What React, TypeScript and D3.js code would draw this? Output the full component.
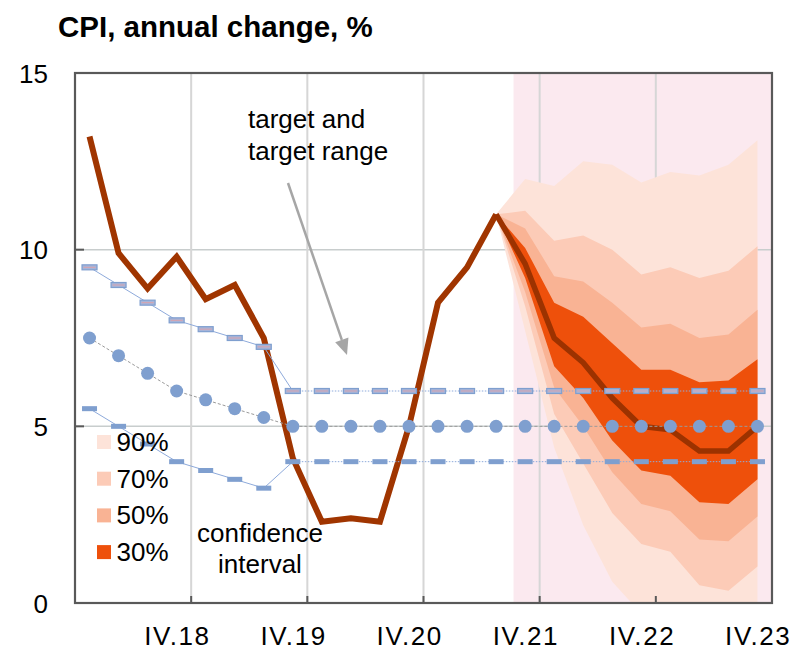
import React from 'react'
import * as d3 from 'd3'

// quarters from I.18 to IV.23
const quarters = [
  'I.18', 'II.18', 'III.18', 'IV.18',
  'I.19', 'II.19', 'III.19', 'IV.19',
  'I.20', 'II.20', 'III.20', 'IV.20',
  'I.21', 'II.21', 'III.21', 'IV.21',
  'I.22', 'II.22', 'III.22', 'IV.22',
  'I.23', 'II.23', 'III.23', 'IV.23',
]
const xLabels = ['IV.18', 'IV.19', 'IV.20', 'IV.21', 'IV.22', 'IV.23']
const yTicks = [0, 5, 10, 15]

// actual CPI, I.18 .. III.21
const cpiActual = [13.2, 9.9, 8.9, 9.8, 8.6, 9.0, 7.5, 4.1, 2.3, 2.4, 2.3, 5.0, 8.5, 9.5, 11.0]
// forecast, III.21 .. IV.23
const forecastQuarters = quarters.slice(14)
const cpiForecast = [11.0, 9.6, 7.5, 6.8, 5.8, 5.0, 4.9, 4.3, 4.3, 5.0]

// confidence intervals
const fan90Hi = [11.0, 12.0, 11.8, 12.5, 12.4, 11.9, 12.2, 12.1, 12.4, 13.1]
const fan90Lo = [11.0, 7.7, 4.4, 2.2, 0.6, -0.3, -0.7, -1.7, -2.0, -1.3]
const fan70Hi = [11.0, 11.1, 10.25, 10.4, 10.0, 9.3, 9.5, 9.2, 9.4, 10.1]
const fan70Lo = [11.0, 8.4, 5.35, 3.95, 2.55, 1.67, 1.45, 0.5, 0.35, 1.03]
const fan50Hi = [11.0, 10.6, 9.25, 9.1, 8.5, 7.8, 7.9, 7.5, 7.6, 8.3]
const fan50Lo = [11.0, 8.8, 6.1, 5.0, 3.7, 2.8, 2.6, 1.8, 1.75, 2.45]
const fan30Hi = [11.0, 10.05, 8.5, 8.1, 7.35, 6.6, 6.6, 6.25, 6.3, 6.9]
const fan30Lo = [11.0, 9.2, 6.7, 5.8, 4.6, 3.75, 3.6, 2.85, 2.8, 3.5]

// inflation target and target range
const targetMid = [7.5, 7.0, 6.5, 6.0, 5.75, 5.5, 5.25, 5, 5, 5, 5, 5, 5, 5, 5, 5, 5, 5, 5, 5, 5, 5, 5, 5]
const targetHi = [9.5, 9.0, 8.5, 8.0, 7.75, 7.5, 7.25, 6, 6, 6, 6, 6, 6, 6, 6, 6, 6, 6, 6, 6, 6, 6, 6, 6]
const targetLo = [5.5, 5.0, 4.5, 4.0, 3.75, 3.5, 3.25, 4, 4, 4, 4, 4, 4, 4, 4, 4, 4, 4, 4, 4, 4, 4, 4, 4]

const fanColors: Record<string, string> = {
  '90%': '#fde3d9',
  '70%': '#fccbb7',
  '50%': '#f9b394',
  '30%': '#ee500b',
}
const fanBands = [
  { name: '90%', lo: fan90Lo, hi: fan90Hi },
  { name: '70%', lo: fan70Lo, hi: fan70Hi },
  { name: '50%', lo: fan50Lo, hi: fan50Hi },
  { name: '30%', lo: fan30Lo, hi: fan30Hi },
]

const font = 'Liberation Sans, Arial, Helvetica, sans-serif'
const lineColor = '#a03500'
const blue = '#7f9fcf'

export default function App() {
  const left = 75, right = 772, top = 73, bottom = 603
  const x = d3.scalePoint<string>().domain(quarters).range([left, right]).padding(0.5)
  const step = x.step()
  const y = d3.scaleLinear().domain([0, 15]).range([bottom, top])

  const cpiLine = d3.line<number>().x((d, i) => x(quarters[i])!).y(d => y(d))
  const fcLine = d3.line<number>().x((d, i) => x(forecastQuarters[i])!).y(d => y(d))
  const tLine = d3.line<[string, number]>().x(d => x(d[0])!).y(d => y(d[1]))

  const gridX = quarters.filter(q => q.startsWith('IV.') && q !== 'IV.23').map(q => x(q)! + step / 2)

  const pinkStart = x('III.21')! + step * 0.6

  const pairs = (arr: number[], from: number, to: number) =>
    quarters.slice(from, to + 1).map((q, i) => [q, arr[from + i]] as [string, number])

  const arrowFrom = [288, 183], arrowTo = [347, 355]
  const ang = Math.atan2(arrowTo[1] - arrowFrom[1], arrowTo[0] - arrowFrom[0])
  const headLen = 16, headW = 7
  const bx = arrowTo[0] - headLen * Math.cos(ang), by = arrowTo[1] - headLen * Math.sin(ang)
  const head = `M${arrowTo[0]},${arrowTo[1]}L${bx + headW * Math.sin(ang)},${by - headW * Math.cos(ang)}L${bx - headW * Math.sin(ang)},${by + headW * Math.cos(ang)}Z`

  return (
    <svg width={794} height={650} style={{ position: 'absolute', left: 0, top: 0, background: '#fff' }} fontFamily={font}>
      <defs>
        <clipPath id="plotClip">
          <rect x={left} y={top} width={right - left} height={bottom - top} />
        </clipPath>
      </defs>

      <text x={58} y={37} fontSize={29.5} fontWeight="bold">CPI, annual change, %</text>

      {/* forecast period shading */}
      <rect x={pinkStart} y={top} width={right - pinkStart} height={bottom - top} fill="#fbe9ef" />

      {/* grid */}
      {yTicks.filter(t => t > 0 && t < 15).map(t => (
        <line key={'gy' + t} x1={left} x2={right} y1={y(t)} y2={y(t)} stroke="#c8cdcd" strokeWidth={1.5} />
      ))}
      {gridX.map(gx => (
        <line key={'gx' + gx} x1={gx} x2={gx} y1={top} y2={bottom} stroke="#d6d6d6" strokeWidth={2} />
      ))}

      {/* fan chart */}
      <g clipPath="url(#plotClip)">
        {fanBands.map(b => {
          const area = d3.area<number>()
            .x((d, i) => x(forecastQuarters[i])!)
            .y0((d, i) => y(b.lo[i]))
            .y1(d => y(d))
          return <path key={b.name} d={area(b.hi)!} fill={fanColors[b.name]} />
        })}
      </g>

      {/* CPI */}
      <path d={cpiLine(cpiActual)!} fill="none" stroke={lineColor} strokeWidth={6} />
      <path d={fcLine(cpiForecast)!} fill="none" stroke="#9c3200" strokeWidth={5.5} />

      {/* target range lines */}
      <path d={tLine(pairs(targetHi, 0, 7))!} fill="none" stroke="#8eaadb" strokeWidth={1} />
      <path d={tLine(pairs(targetLo, 0, 7))!} fill="none" stroke="#8eaadb" strokeWidth={1} />
      <path d={tLine(pairs(targetHi, 7, 23))!} fill="none" stroke="#8eaadb" strokeWidth={1} strokeDasharray="1.5,1.5" />
      <path d={tLine(pairs(targetLo, 7, 23))!} fill="none" stroke="#8eaadb" strokeWidth={1} strokeDasharray="1.5,1.5" />
      <path d={tLine(pairs(targetMid, 0, 23))!} fill="none" stroke="#9a9a9a" strokeWidth={1} strokeDasharray="3,2" />

      {quarters.map((q, i) => (
        <g key={'t' + q}>
          <rect x={x(q)! - 7.5} y={y(targetHi[i]) - 2.5} width={15} height={5} fill="#a7b4d8" stroke={blue} strokeWidth={1.2} />
          <line x1={x(q)! - 6} x2={x(q)! + 6} y1={y(targetHi[i])} y2={y(targetHi[i])} stroke="#d9a3ad" strokeWidth={1} />
          <rect x={x(q)! - 7.5} y={y(targetLo[i]) - 2.5} width={15} height={5} fill={blue} />
          <circle cx={x(q)!} cy={y(targetMid[i])} r={6.5} fill={blue} />
        </g>
      ))}

      {/* frame and ticks */}
      <rect x={left} y={top} width={right - left} height={bottom - top} fill="none" stroke="#595959" strokeWidth={2.2} />
      {yTicks.map(t => (
        <g key={'yt' + t}>
          <line x1={left} x2={left + 9} y1={y(t)} y2={y(t)} stroke="#595959" strokeWidth={2} />
          <text x={48} y={y(t) + 9.5} fontSize={26} textAnchor="end">{t}</text>
        </g>
      ))}
      {gridX.map(gx => (
        <line key={'xt' + gx} x1={gx} x2={gx} y1={bottom} y2={bottom - 7} stroke="#595959" strokeWidth={2} />
      ))}
      {xLabels.map(l => (
        <text key={l} x={x(l)! + 0.8} y={645} fontSize={26} letterSpacing={1.6} textAnchor="middle">{l}</text>
      ))}

      {/* legend */}
      {fanBands.map((b, i) => (
        <g key={'lg' + b.name}>
          <rect x={97} y={435 + i * 36.7} width={14} height={14} fill={fanColors[b.name]} />
          <text x={116.5} y={451 + i * 36.7} fontSize={26}>{b.name}</text>
        </g>
      ))}
      <text x={260} y={542} fontSize={26} textAnchor="middle">confidence</text>
      <text x={260} y={573} fontSize={26} textAnchor="middle">interval</text>

      {/* annotation */}
      <text x={248} y={128} fontSize={26}>target and</text>
      <text x={248} y={160} fontSize={26}>target range</text>
      <line x1={arrowFrom[0]} y1={arrowFrom[1]} x2={bx} y2={by} stroke="#a6a6a6" strokeWidth={2.5} />
      <path d={head} fill="#a6a6a6" />
    </svg>
  )
}
